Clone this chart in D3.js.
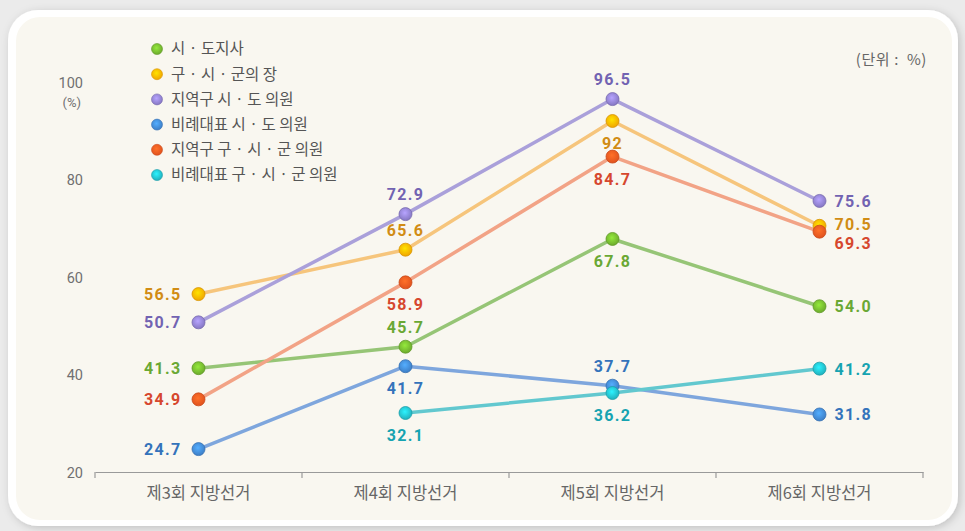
<!DOCTYPE html>
<html>
<head>
<meta charset="utf-8">
<script src="https://cdn.jsdelivr.net/npm/d3@7"></script>
<style>
  html, body { margin: 0; padding: 0; background: #ebebeb; }
  svg { display: block; }
</style>
</head>
<body>
<svg id="chart" width="965" height="531"></svg>
<script>
// categories (x axis)
const rounds = ["제3회 지방선거", "제4회 지방선거", "제5회 지방선거", "제6회 지방선거"];

// series names (legend)
const seriesNames = [
  "시 · 도지사",
  "구 · 시 · 군의 장",
  "지역구 시 · 도 의원",
  "비례대표 시 · 도 의원",
  "지역구 구 · 시 · 군 의원",
  "비례대표 구 · 시 · 군 의원"
];

// values as printed in the chart (%)
const mayorGovernor   = ["41.3", "45.7", "67.8", "54.0"];
const localHead       = ["56.5", "65.6", "92", "70.5"];
const districtProv    = ["50.7", "72.9", "96.5", "75.6"];
const propProv        = ["24.7", "41.7", "37.7", "31.8"];
const districtLocal   = ["34.9", "58.9", "84.7", "69.3"];
const propLocal       = [null, "32.1", "36.2", "41.2"];

// y ticks
const yTicks = [20, 40, 60, 80, 100];

// where each value label sits relative to its point
const labelPlace = [
  ["left", "above", "below", "right"],
  ["left", "above", "below", "rightHigh"],
  ["left", "above", "above", "right"],
  ["left", "below", "above", "right"],
  ["left", "below", "below", "rightLow"],
  [null, "below", "below", "right"]
];

const colors = [
  { dot: "#6caa2c", line: "#96c576", text: "#6aa834" },
  { dot: "#f0a500", line: "#f6c57c", text: "#d18c14" },
  { dot: "#8577c2", line: "#aaa0da", text: "#7263b2" },
  { dot: "#3d7ec6", line: "#7ea6dd", text: "#3473bb" },
  { dot: "#e0521e", line: "#f2a386", text: "#d6472e" },
  { dot: "#20b0bc", line: "#62c8cf", text: "#16a3b1" }
];

const allSeries = [mayorGovernor, localHead, districtProv, propProv, districtLocal, propLocal];

const svg = d3.select("#chart");
const defs = svg.append("defs");

// card shadow
const shadow = defs.append("filter").attr("id", "shadow")
  .attr("x", "-5%").attr("y", "-5%").attr("width", "110%").attr("height", "110%");
shadow.append("feDropShadow").attr("dx", 2).attr("dy", 2).attr("stdDeviation", 4)
  .attr("flood-color", "#000").attr("flood-opacity", 0.18);

// glossy dots
colors.forEach(function (c, i) {
  const g = defs.append("radialGradient").attr("id", "dot" + i)
    .attr("cx", "45%").attr("cy", "40%").attr("r", "60%");
  g.append("stop").attr("offset", "0%").attr("stop-color", d3.color(c.dot).brighter(0.9));
  g.append("stop").attr("offset", "100%").attr("stop-color", c.dot);
});

// card
svg.append("rect").attr("x", 8).attr("y", 10).attr("width", 950).attr("height", 516)
  .attr("rx", 30).attr("fill", "#ffffff").attr("filter", "url(#shadow)");
svg.append("rect").attr("x", 16).attr("y", 17).attr("width", 936).attr("height", 503)
  .attr("rx", 24).attr("fill", "#f9f7f0");

// scales
const x = d3.scaleBand().domain(rounds).range([95, 923]);
const y = d3.scaleLinear().domain([20, 100]).range([472, 82]);
const cx = function (d) { return x(d) + x.bandwidth() / 2; };

// y axis labels
const yAxis = svg.append("g").attr("transform", "translate(83,0)")
  .call(d3.axisLeft(y).tickValues(yTicks).tickSize(0).tickPadding(0));
yAxis.select(".domain").remove();
yAxis.selectAll("text")
  .attr("fill", "#707070").attr("font-size", 14.5).attr("dy", "0.35em")
  .attr("font-family", "Roboto, 'Noto Sans', sans-serif");
svg.append("text").attr("x", 81).attr("y", y(100) + 25).attr("text-anchor", "end")
  .attr("fill", "#707070").attr("font-size", 13)
  .attr("font-family", "Roboto, 'Noto Sans', sans-serif").text("(%)");

// x axis
const xAxis = svg.append("g").attr("transform", "translate(0," + y(20) + ")")
  .call(d3.axisBottom(x).tickSize(0).tickPadding(15));
xAxis.select(".domain").attr("stroke", "#9a9a9a").attr("stroke-width", 1.2);
xAxis.selectAll("text")
  .attr("fill", "#666").attr("font-size", 16.5)
  .attr("font-family", "'Noto Sans CJK KR', sans-serif");
// band boundary ticks
const bounds = rounds.map(function (d) { return x(d); }).concat([x.range()[1]]);
xAxis.selectAll(".bound").data(bounds).enter().append("line")
  .attr("class", "bound")
  .attr("x1", function (d) { return d; }).attr("x2", function (d) { return d; })
  .attr("y1", 0).attr("y2", 6)
  .attr("stroke", "#9a9a9a").attr("stroke-width", 1.2);

// unit label
svg.append("text").attr("x", 927).attr("y", 65).attr("text-anchor", "end")
  .attr("fill", "#666").attr("font-size", 15).attr("letter-spacing", 0.6)
  .attr("font-family", "'Noto Sans CJK KR', sans-serif").text("(단위 :  %)")
  .attr("xml:space", "preserve").style("white-space", "pre");

// series
const line = d3.line()
  .defined(function (d) { return d.v !== null; })
  .x(function (d) { return cx(d.r); })
  .y(function (d) { return y(d.v); });

const plot = svg.append("g");
const seriesData = allSeries.map(function (vals, i) {
  return vals.map(function (v, j) {
    return { r: rounds[j], v: v === null ? null : +v, txt: v, place: labelPlace[i][j], s: i };
  });
});

// lines first
seriesData.forEach(function (pts, i) {
  plot.append("path").datum(pts)
    .attr("fill", "none")
    .attr("stroke", colors[i].line)
    .attr("stroke-width", 3.5)
    .attr("stroke-linejoin", "round")
    .attr("d", line);
});

// dots and labels
seriesData.forEach(function (pts, i) {
  const valid = pts.filter(function (d) { return d.v !== null; });
  plot.selectAll(".dot" + i).data(valid).enter().append("circle")
    .attr("class", "dot" + i)
    .attr("cx", function (d) { return cx(d.r); })
    .attr("cy", function (d) { return y(d.v); })
    .attr("r", 6.5)
    .attr("fill", "url(#dot" + i + ")")
    .attr("stroke", d3.color(colors[i].dot).darker(0.3))
    .attr("stroke-width", 0.8);

  plot.selectAll(".lbl" + i).data(valid).enter().append("text")
    .attr("class", "lbl" + i)
    .attr("x", function (d) {
      const px = cx(d.r);
      if (d.place === "left") return px - 17;
      if (d.place.indexOf("right") === 0) return px + 15;
      return px;
    })
    .attr("y", function (d) {
      const py = y(d.v);
      if (d.place === "above") return py - 14;
      if (d.place === "below") return py + 28;
      if (d.place === "rightLow") return py + 17;
      if (d.place === "rightHigh") return py + 4;
      return py + 6;
    })
    .attr("text-anchor", function (d) {
      if (d.place === "left") return "end";
      if (d.place.indexOf("right") === 0) return "start";
      return "middle";
    })
    .attr("fill", colors[i].text)
    .attr("font-size", 16)
    .attr("font-weight", "bold")
    .attr("letter-spacing", 1.3)
    .attr("font-family", "Roboto, 'DejaVu Sans', sans-serif")
    .text(function (d) { return d.txt; });
});

// legend
const legend = svg.append("g").attr("transform", "translate(157,49)");
const item = legend.selectAll(".item").data(seriesNames).enter().append("g")
  .attr("transform", function (d, i) { return "translate(0," + (i * 25.2) + ")"; });
item.append("circle").attr("r", 5.5)
  .attr("fill", function (d, i) { return "url(#dot" + i + ")"; })
  .attr("stroke", function (d, i) { return d3.color(colors[i].dot).darker(0.3); })
  .attr("stroke-width", 0.6);
item.append("text").attr("x", 14).attr("dy", "0.35em")
  .attr("fill", "#555").attr("font-size", 15.5)
  .attr("font-family", "'Noto Sans CJK KR', sans-serif")
  .text(function (d) { return d; });
</script>
</body>
</html>
